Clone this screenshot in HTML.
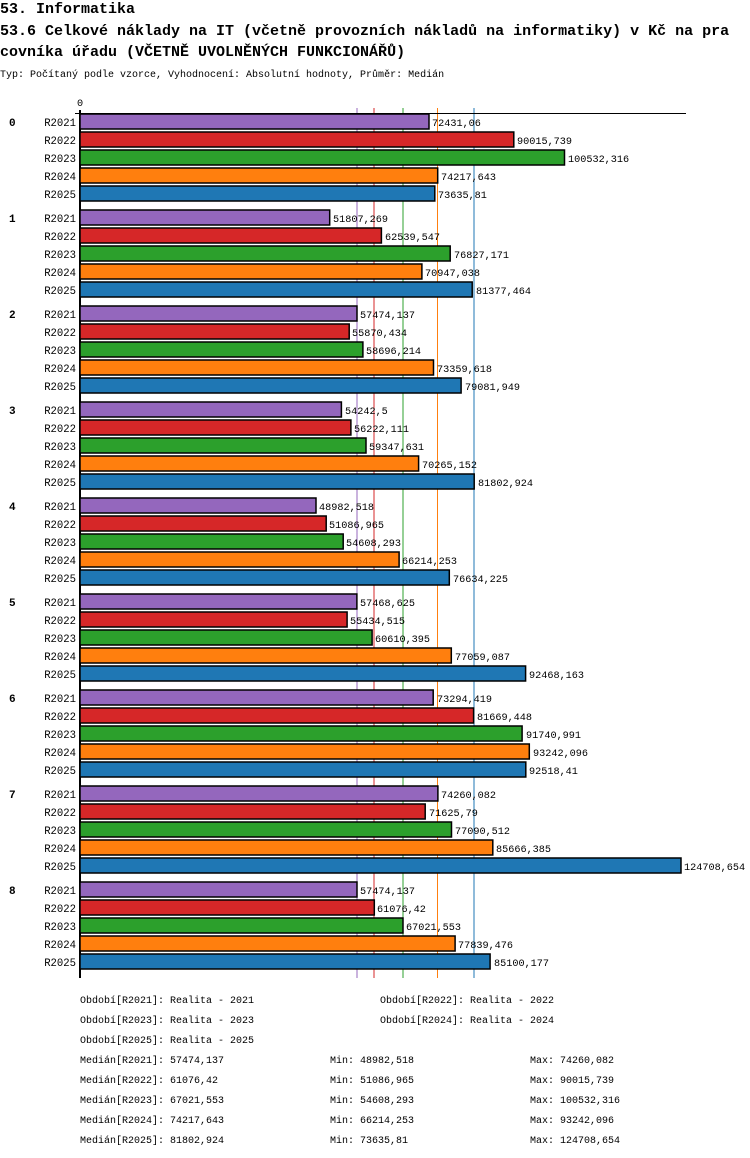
<!DOCTYPE html>
<html><head><meta charset="utf-8"><style>
body{margin:0;background:#fff;}
svg{display:block;font-family:"Liberation Mono","DejaVu Sans Mono",monospace;}
.l{font-size:10.2px;fill:#000}
.r{font-size:10.6px;text-anchor:end}
</style></head><body>
<svg width="750" height="1158" xmlns="http://www.w3.org/2000/svg">
<rect width="750" height="1158" fill="#fff"/>
<text x="0" y="13" font-size="15" font-weight="bold">53. Informatika</text>
<text x="0" y="35" font-size="15" font-weight="bold">53.6 Celkové náklady na IT (včetně provozních nákladů na informatiky) v Kč na pra</text>
<text x="0" y="56" font-size="15" font-weight="bold">covníka úřadu (VČETNĚ UVOLNĚNÝCH FUNKCIONÁŘŮ)</text>
<text x="0" y="77" font-size="10">Typ: Počítaný podle vzorce, Vyhodnocení: Absolutní hodnoty, Průměr: Medián</text>
<text x="80" y="106" class="l" text-anchor="middle">0</text>
<g stroke-width="1">
<line x1="357" y1="108" x2="357" y2="978" stroke="#9467bd"/>
<line x1="374" y1="108" x2="374" y2="978" stroke="#d62728"/>
<line x1="403" y1="108" x2="403" y2="978" stroke="#2ca02c"/>
<line x1="437.5" y1="108" x2="437.5" y2="978" stroke="#ff7f0e"/>
<line x1="474" y1="108" x2="474" y2="978" stroke="#1f77b4"/>
</g>
<line x1="75" y1="113.5" x2="686" y2="113.5" stroke="#000"/>
<line x1="80" y1="110" x2="80" y2="978" stroke="#000" stroke-width="2"/>
<g transform="translate(0,0)">
<text x="9" y="126" font-size="11" font-weight="bold">0</text>
<text x="76" y="126" class="r">R2021</text><text x="76" y="144" class="r">R2022</text><text x="76" y="162" class="r">R2023</text><text x="76" y="180" class="r">R2024</text><text x="76" y="198" class="r">R2025</text>
<g stroke="#000" stroke-width="1.5">
<rect x="80" y="114" width="349" height="15" fill="#9467bd"/>
<rect x="80" y="132" width="433.8" height="15" fill="#d62728"/>
<rect x="80" y="150" width="484.5" height="15" fill="#2ca02c"/>
<rect x="80" y="168" width="357.7" height="15" fill="#ff7f0e"/>
<rect x="80" y="186" width="354.8" height="15" fill="#1f77b4"/>
</g>
<text x="432" y="126" class="l">72431,06</text><text x="517" y="144" class="l">90015,739</text><text x="568" y="162" class="l">100532,316</text><text x="441" y="180" class="l">74217,643</text><text x="438" y="198" class="l">73635,81</text>
</g>
<g transform="translate(0,96)">
<text x="9" y="126" font-size="11" font-weight="bold">1</text>
<text x="76" y="126" class="r">R2021</text><text x="76" y="144" class="r">R2022</text><text x="76" y="162" class="r">R2023</text><text x="76" y="180" class="r">R2024</text><text x="76" y="198" class="r">R2025</text>
<g stroke="#000" stroke-width="1.5">
<rect x="80" y="114" width="249.7" height="15" fill="#9467bd"/>
<rect x="80" y="132" width="301.4" height="15" fill="#d62728"/>
<rect x="80" y="150" width="370.2" height="15" fill="#2ca02c"/>
<rect x="80" y="168" width="341.9" height="15" fill="#ff7f0e"/>
<rect x="80" y="186" width="392.2" height="15" fill="#1f77b4"/>
</g>
<text x="333" y="126" class="l">51807,269</text><text x="385" y="144" class="l">62539,547</text><text x="454" y="162" class="l">76827,171</text><text x="425" y="180" class="l">70947,038</text><text x="476" y="198" class="l">81377,464</text>
</g>
<g transform="translate(0,192)">
<text x="9" y="126" font-size="11" font-weight="bold">2</text>
<text x="76" y="126" class="r">R2021</text><text x="76" y="144" class="r">R2022</text><text x="76" y="162" class="r">R2023</text><text x="76" y="180" class="r">R2024</text><text x="76" y="198" class="r">R2025</text>
<g stroke="#000" stroke-width="1.5">
<rect x="80" y="114" width="277" height="15" fill="#9467bd"/>
<rect x="80" y="132" width="269.2" height="15" fill="#d62728"/>
<rect x="80" y="150" width="282.9" height="15" fill="#2ca02c"/>
<rect x="80" y="168" width="353.5" height="15" fill="#ff7f0e"/>
<rect x="80" y="186" width="381.1" height="15" fill="#1f77b4"/>
</g>
<text x="360" y="126" class="l">57474,137</text><text x="352" y="144" class="l">55870,434</text><text x="366" y="162" class="l">58696,214</text><text x="437" y="180" class="l">73359,618</text><text x="465" y="198" class="l">79081,949</text>
</g>
<g transform="translate(0,288)">
<text x="9" y="126" font-size="11" font-weight="bold">3</text>
<text x="76" y="126" class="r">R2021</text><text x="76" y="144" class="r">R2022</text><text x="76" y="162" class="r">R2023</text><text x="76" y="180" class="r">R2024</text><text x="76" y="198" class="r">R2025</text>
<g stroke="#000" stroke-width="1.5">
<rect x="80" y="114" width="261.4" height="15" fill="#9467bd"/>
<rect x="80" y="132" width="270.9" height="15" fill="#d62728"/>
<rect x="80" y="150" width="286" height="15" fill="#2ca02c"/>
<rect x="80" y="168" width="338.6" height="15" fill="#ff7f0e"/>
<rect x="80" y="186" width="394.2" height="15" fill="#1f77b4"/>
</g>
<text x="345" y="126" class="l">54242,5</text><text x="354" y="144" class="l">56222,111</text><text x="369" y="162" class="l">59347,631</text><text x="422" y="180" class="l">70265,152</text><text x="478" y="198" class="l">81802,924</text>
</g>
<g transform="translate(0,384)">
<text x="9" y="126" font-size="11" font-weight="bold">4</text>
<text x="76" y="126" class="r">R2021</text><text x="76" y="144" class="r">R2022</text><text x="76" y="162" class="r">R2023</text><text x="76" y="180" class="r">R2024</text><text x="76" y="198" class="r">R2025</text>
<g stroke="#000" stroke-width="1.5">
<rect x="80" y="114" width="236" height="15" fill="#9467bd"/>
<rect x="80" y="132" width="246.2" height="15" fill="#d62728"/>
<rect x="80" y="150" width="263.2" height="15" fill="#2ca02c"/>
<rect x="80" y="168" width="319.1" height="15" fill="#ff7f0e"/>
<rect x="80" y="186" width="369.3" height="15" fill="#1f77b4"/>
</g>
<text x="319" y="126" class="l">48982,518</text><text x="329" y="144" class="l">51086,965</text><text x="346" y="162" class="l">54608,293</text><text x="402" y="180" class="l">66214,253</text><text x="453" y="198" class="l">76634,225</text>
</g>
<g transform="translate(0,480)">
<text x="9" y="126" font-size="11" font-weight="bold">5</text>
<text x="76" y="126" class="r">R2021</text><text x="76" y="144" class="r">R2022</text><text x="76" y="162" class="r">R2023</text><text x="76" y="180" class="r">R2024</text><text x="76" y="198" class="r">R2025</text>
<g stroke="#000" stroke-width="1.5">
<rect x="80" y="114" width="276.9" height="15" fill="#9467bd"/>
<rect x="80" y="132" width="267.1" height="15" fill="#d62728"/>
<rect x="80" y="150" width="292.1" height="15" fill="#2ca02c"/>
<rect x="80" y="168" width="371.3" height="15" fill="#ff7f0e"/>
<rect x="80" y="186" width="445.6" height="15" fill="#1f77b4"/>
</g>
<text x="360" y="126" class="l">57468,625</text><text x="350" y="144" class="l">55434,515</text><text x="375" y="162" class="l">60610,395</text><text x="455" y="180" class="l">77059,087</text><text x="529" y="198" class="l">92468,163</text>
</g>
<g transform="translate(0,576)">
<text x="9" y="126" font-size="11" font-weight="bold">6</text>
<text x="76" y="126" class="r">R2021</text><text x="76" y="144" class="r">R2022</text><text x="76" y="162" class="r">R2023</text><text x="76" y="180" class="r">R2024</text><text x="76" y="198" class="r">R2025</text>
<g stroke="#000" stroke-width="1.5">
<rect x="80" y="114" width="353.2" height="15" fill="#9467bd"/>
<rect x="80" y="132" width="393.6" height="15" fill="#d62728"/>
<rect x="80" y="150" width="442.1" height="15" fill="#2ca02c"/>
<rect x="80" y="168" width="449.3" height="15" fill="#ff7f0e"/>
<rect x="80" y="186" width="445.8" height="15" fill="#1f77b4"/>
</g>
<text x="437" y="126" class="l">73294,419</text><text x="477" y="144" class="l">81669,448</text><text x="526" y="162" class="l">91740,991</text><text x="533" y="180" class="l">93242,096</text><text x="529" y="198" class="l">92518,41</text>
</g>
<g transform="translate(0,672)">
<text x="9" y="126" font-size="11" font-weight="bold">7</text>
<text x="76" y="126" class="r">R2021</text><text x="76" y="144" class="r">R2022</text><text x="76" y="162" class="r">R2023</text><text x="76" y="180" class="r">R2024</text><text x="76" y="198" class="r">R2025</text>
<g stroke="#000" stroke-width="1.5">
<rect x="80" y="114" width="357.9" height="15" fill="#9467bd"/>
<rect x="80" y="132" width="345.2" height="15" fill="#d62728"/>
<rect x="80" y="150" width="371.5" height="15" fill="#2ca02c"/>
<rect x="80" y="168" width="412.8" height="15" fill="#ff7f0e"/>
<rect x="80" y="186" width="601" height="15" fill="#1f77b4"/>
</g>
<text x="441" y="126" class="l">74260,082</text><text x="429" y="144" class="l">71625,79</text><text x="455" y="162" class="l">77090,512</text><text x="496" y="180" class="l">85666,385</text><text x="684" y="198" class="l">124708,654</text>
</g>
<g transform="translate(0,768)">
<text x="9" y="126" font-size="11" font-weight="bold">8</text>
<text x="76" y="126" class="r">R2021</text><text x="76" y="144" class="r">R2022</text><text x="76" y="162" class="r">R2023</text><text x="76" y="180" class="r">R2024</text><text x="76" y="198" class="r">R2025</text>
<g stroke="#000" stroke-width="1.5">
<rect x="80" y="114" width="277" height="15" fill="#9467bd"/>
<rect x="80" y="132" width="294.3" height="15" fill="#d62728"/>
<rect x="80" y="150" width="323" height="15" fill="#2ca02c"/>
<rect x="80" y="168" width="375.1" height="15" fill="#ff7f0e"/>
<rect x="80" y="186" width="410.1" height="15" fill="#1f77b4"/>
</g>
<text x="360" y="126" class="l">57474,137</text><text x="377" y="144" class="l">61076,42</text><text x="406" y="162" class="l">67021,553</text><text x="458" y="180" class="l">77839,476</text><text x="494" y="198" class="l">85100,177</text>
</g>
<g font-size="10" fill="#000">
<text x="80" y="1003">Období[R2021]: Realita - 2021</text>
<text x="380" y="1003">Období[R2022]: Realita - 2022</text>
<text x="80" y="1023">Období[R2023]: Realita - 2023</text>
<text x="380" y="1023">Období[R2024]: Realita - 2024</text>
<text x="80" y="1043">Období[R2025]: Realita - 2025</text>
<text x="80" y="1063">Medián[R2021]: 57474,137</text><text x="330" y="1063">Min: 48982,518</text><text x="530" y="1063">Max: 74260,082</text>
<text x="80" y="1083">Medián[R2022]: 61076,42</text><text x="330" y="1083">Min: 51086,965</text><text x="530" y="1083">Max: 90015,739</text>
<text x="80" y="1103">Medián[R2023]: 67021,553</text><text x="330" y="1103">Min: 54608,293</text><text x="530" y="1103">Max: 100532,316</text>
<text x="80" y="1123">Medián[R2024]: 74217,643</text><text x="330" y="1123">Min: 66214,253</text><text x="530" y="1123">Max: 93242,096</text>
<text x="80" y="1143">Medián[R2025]: 81802,924</text><text x="330" y="1143">Min: 73635,81</text><text x="530" y="1143">Max: 124708,654</text>
</g>
</svg>
</body></html>
